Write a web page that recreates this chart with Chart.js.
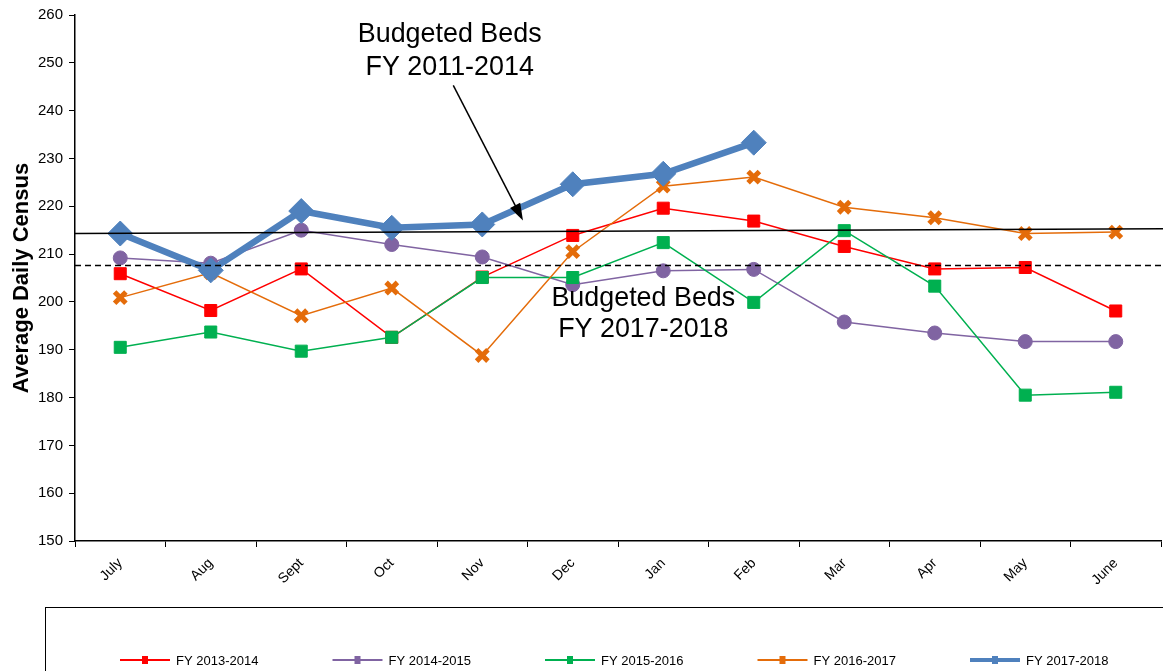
<!DOCTYPE html>
<html>
<head>
<meta charset="utf-8">
<script src="https://cdn.jsdelivr.net/npm/chart.js@4.4.1/dist/chart.umd.min.js"></script>
<style>
    html, body { margin: 0; padding: 0; background: #fff; }
    #wrap { width: 1163px; height: 671px; position: relative; }
</style>
</head>
<body>
<div id="wrap"><canvas id="censusChart" width="1163" height="671"></canvas></div>
<script>
/* Chart data */
const MONTHS = ["July", "Aug", "Sept", "Oct", "Nov", "Dec", "Jan", "Feb", "Mar", "Apr", "May", "June"];
const FY_2013_2014 = [205.9, 198.2, 206.9, 192.6, 205.2, 213.9, 219.6, 216.9, 211.6, 206.9, 207.2, 198.1];
const FY_2014_2015 = [209.2, 208.1, 215.0, 212.0, 209.4, 203.6, 206.5, 206.8, 195.8, 193.5, 191.7, 191.7];
const FY_2015_2016 = [190.5, 193.7, 189.7, 192.6, 205.1, 205.1, 212.4, 199.9, 214.9, 203.3, 180.5, 181.1];
const FY_2016_2017 = [200.9, 206.1, 197.1, 202.9, 188.8, 210.5, 224.2, 226.1, 219.8, 217.6, 214.3, 214.6];
const FY_2017_2018 = [214.3, 206.6, 219.0, 215.5, 216.2, 224.6, 226.8, 233.3, null, null, null, null];

/* Budgeted beds reference lines (value at left edge, value at right edge) */
const BEDS_2011_2014 = [214.3, 215.3];
const BEDS_2017_2018 = [207.6, 207.6];

const FONT = "Arial, 'Liberation Sans', sans-serif";

const COLORS = {
    red: "#ff0000",
    purple: "#8064a2",
    green: "#00b050",
    orange: "#e46c0a",
    blue: "#4f81bd",
};

/* Callout texts: [xIndex, yValue, text] */
const NOTES = [
    [3.64, 255.9, "Budgeted Beds"],
    [3.64, 249.1, "FY 2011-2014"],
    [5.78, 200.8, "Budgeted Beds"],
    [5.78, 194.3, "FY 2017-2018"],
];
const ARROW = { from: [3.68, 245.3], to: [4.45, 217.0] };

function series(label, data, color, style, radius, width, order) {
    return {
        label,
        data,
        borderColor: color,
        backgroundColor: color,
        pointBackgroundColor: color,
        pointBorderColor: color,
        pointStyle: style,
        pointRadius: radius,
        pointHoverRadius: radius,
        pointBorderWidth: style === "crossRot" ? 5 : 1,
        borderWidth: width,
        tension: 0,
        order,
        spanGaps: false,
    };
}

/* Reference lines, callouts and legend drawn on top of the plot */
const overlayPlugin = {
    id: "overlay",
    afterDatasetsDraw(chart) {
        const { ctx, chartArea: area, scales: { x, y } } = chart;
        ctx.save();

        // Budgeted beds lines
        ctx.strokeStyle = "#000";
        ctx.lineWidth = 1.5;
        ctx.beginPath();
        ctx.moveTo(area.left, y.getPixelForValue(BEDS_2011_2014[0]));
        ctx.lineTo(chart.width, y.getPixelForValue(BEDS_2011_2014[1]));
        ctx.stroke();

        ctx.setLineDash([6, 4]);
        ctx.beginPath();
        ctx.moveTo(area.left, y.getPixelForValue(BEDS_2017_2018[0]));
        ctx.lineTo(chart.width, y.getPixelForValue(BEDS_2017_2018[1]));
        ctx.stroke();
        ctx.setLineDash([]);

        // Callout texts
        ctx.fillStyle = "#000";
        ctx.font = "28px " + FONT;
        ctx.textAlign = "center";
        ctx.textBaseline = "middle";
        for (const [i, v, text] of NOTES) {
            ctx.save();
            ctx.translate(x.getPixelForValue(i), y.getPixelForValue(v));
            ctx.scale(0.96, 1);
            ctx.fillText(text, 0, 0);
            ctx.restore();
        }

        // Arrow
        const x1 = x.getPixelForValue(ARROW.from[0]);
        const y1 = y.getPixelForValue(ARROW.from[1]);
        const x2 = x.getPixelForValue(ARROW.to[0]);
        const y2 = y.getPixelForValue(ARROW.to[1]);
        const ang = Math.atan2(y2 - y1, x2 - x1);
        ctx.lineWidth = 1.5;
        ctx.beginPath();
        ctx.moveTo(x1, y1);
        ctx.lineTo(x2 - 12 * Math.cos(ang), y2 - 12 * Math.sin(ang));
        ctx.stroke();
        ctx.beginPath();
        ctx.moveTo(x2, y2);
        ctx.lineTo(x2 - 18 * Math.cos(ang - 0.32), y2 - 18 * Math.sin(ang - 0.32));
        ctx.lineTo(x2 - 18 * Math.cos(ang + 0.32), y2 - 18 * Math.sin(ang + 0.32));
        ctx.closePath();
        ctx.fill();

        // Legend box
        ctx.strokeStyle = "#000";
        ctx.lineWidth = 1;
        ctx.strokeRect(45.5, 607.5, chart.width + 10, 100);

        ctx.font = "13px " + FONT;
        ctx.textAlign = "left";
        chart.data.datasets.forEach((ds, k) => {
            const lx = 120 + k * 212.5;
            const ly = 660;
            ctx.strokeStyle = ds.borderColor;
            ctx.lineWidth = ds.borderWidth > 3 ? 4 : 2;
            ctx.beginPath();
            ctx.moveTo(lx, ly);
            ctx.lineTo(lx + 50, ly);
            ctx.stroke();
            ctx.fillStyle = ds.borderColor;
            ctx.beginPath();
            ctx.rect(lx + 22, ly - 4, 6, 8);
            ctx.fill();
            ctx.fillStyle = "#000";
            ctx.fillText(ds.label, lx + 56, ly + 1);
        });

        ctx.restore();
    },
};

new Chart(document.getElementById("censusChart"), {
    type: "line",
    data: {
        labels: MONTHS,
        datasets: [
            series("FY 2013-2014", FY_2013_2014, COLORS.red, "rect", 8.5, 1.5, 5),
            series("FY 2014-2015", FY_2014_2015, COLORS.purple, "circle", 7, 1.5, 4),
            series("FY 2015-2016", FY_2015_2016, COLORS.green, "rect", 8.5, 1.5, 3),
            series("FY 2016-2017", FY_2016_2017, COLORS.orange, "crossRot", 8, 1.5, 2),
            series("FY 2017-2018", FY_2017_2018, COLORS.blue, "rectRot", 12.5, 6.5, 1),
        ],
    },
    options: {
        responsive: false,
        animation: false,
        devicePixelRatio: 1,
        layout: { autoPadding: false, padding: { top: 14, right: 2, left: 0, bottom: 0 } },
        plugins: {
            legend: { display: false },
            tooltip: { enabled: false },
        },
        scales: {
            x: {
                offset: true,
                afterFit: s => {
                    s.height = 130;
                    s.paddingLeft = 0;
                    s.paddingRight = 0;
                },
                grid: {
                    offset: true,
                    drawOnChartArea: false,
                    drawTicks: true,
                    tickLength: 6,
                    color: "#000",
                },
                border: { color: "#000", width: 1.5 },
                ticks: {
                    color: "#000",
                    font: { family: FONT, size: 14 },
                    minRotation: 45,
                    maxRotation: 45,
                    padding: 8,
                    autoSkip: false,
                },
            },
            y: {
                min: 150,
                max: 260,
                afterFit: s => { s.width = 75; },
                grid: {
                    drawOnChartArea: false,
                    drawTicks: true,
                    tickLength: 6,
                    color: "#000",
                },
                border: { color: "#000", width: 1.5 },
                ticks: {
                    stepSize: 10,
                    color: "#000",
                    font: { family: FONT, size: 15 },
                    padding: 6,
                },
                title: {
                    display: true,
                    text: "Average Daily Census",
                    color: "#000",
                    font: { family: FONT, size: 22, weight: "bold" },
                    padding: { top: 9, bottom: 0 },
                },
            },
        },
    },
    plugins: [overlayPlugin],
});
</script>
</body>
</html>
